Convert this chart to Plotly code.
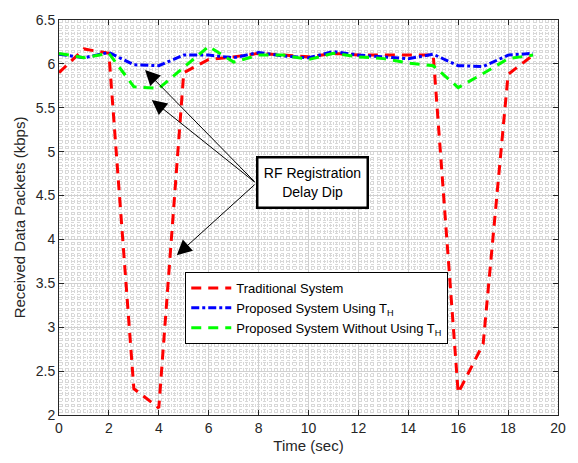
import plotly.graph_objects as go

# ---- data ----
time_sec = list(range(0, 20))
traditional = [5.90, 6.17, 6.12, 2.30, 2.08, 5.90, 6.05, 6.08, 6.12, 6.10,
               6.08, 6.12, 6.10, 6.10, 6.10, 6.10, 2.25, 2.81, 5.88, 6.10]
proposed_th = [6.11, 6.07, 6.13, 5.99, 5.98, 6.10, 6.10, 6.07, 6.13, 6.09,
               6.07, 6.14, 6.10, 6.08, 6.06, 6.11, 5.98, 5.97, 6.10, 6.12]
proposed_no_th = [6.12, 6.07, 6.12, 5.74, 5.72, 5.96, 6.20, 6.02, 6.10, 6.10,
                  6.05, 6.12, 6.08, 6.06, 6.01, 5.98, 5.73, 5.89, 6.06, 6.10]
series_names = ["Traditional System",
                "Proposed System Using T<sub>H</sub>",
                "Proposed System Without Using T<sub>H</sub>"]
x_ticks = list(range(0, 21, 2))
y_ticks = [2, 2.5, 3, 3.5, 4, 4.5, 5, 5.5, 6, 6.5]
y_tick_text = ["2", "2.5", "3", "3.5", "4", "4.5", "5", "5.5", "6", "6.5"]

# annotation arrows: tips and common tail (data coords)
arrow_tips = [(3.45, 5.93), (3.72, 5.59), (4.72, 3.82)]
arrow_tail = (7.9, 4.64)
box_pos = (10.17, 4.65)
box_text = "RF Registration<br>Delay Dip"

FONT = "Liberation Sans, Arial, Helvetica, sans-serif"
AX = "#262626"

fig = go.Figure()
fig.add_trace(go.Scatter(x=time_sec, y=traditional, mode="lines", name=series_names[0],
                         line=dict(color="#FF0000", width=3, dash="10px,7px")))
fig.add_trace(go.Scatter(x=time_sec, y=proposed_th, mode="lines", name=series_names[1],
                         line=dict(color="#0000FF", width=3, dash="8px,3px,3px,3px")))
fig.add_trace(go.Scatter(x=time_sec, y=proposed_no_th, mode="lines", name=series_names[2],
                         line=dict(color="#00FF00", width=3, dash="10px,7px")))

for (tx, ty) in arrow_tips:
    fig.add_annotation(x=tx, y=ty, ax=arrow_tail[0], ay=arrow_tail[1],
                       xref="x", yref="y", axref="x", ayref="y",
                       text="", showarrow=True, arrowhead=2, arrowsize=3,
                       arrowwidth=1, arrowcolor="black", standoff=0, startstandoff=0)

fig.add_annotation(x=box_pos[0], y=box_pos[1], xref="x", yref="y", text=box_text,
                   showarrow=False, font=dict(family=FONT, size=14, color="black"),
                   bgcolor="white", bordercolor="black", borderwidth=2.5,
                   borderpad=3, width=102, height=42, align="center")

axis_common = dict(showline=True, linecolor=AX, linewidth=1, mirror="ticks",
                   ticks="inside", ticklen=5, tickcolor=AX, zeroline=False,
                   showgrid=True, gridcolor="#d0d0d0", gridwidth=1,
                   tickfont=dict(family=FONT, size=14, color=AX))

fig.update_xaxes(range=[0, 20], tickvals=x_ticks,
                 title=dict(text="Time (sec)", font=dict(family=FONT, size=15, color=AX), standoff=5),
                 minor=dict(dtick=0.125, showgrid=True, gridcolor="#d8d8d8", griddash="dot", gridwidth=1),
                 **axis_common)
fig.update_yaxes(range=[2, 6.5], tickvals=y_ticks, ticktext=y_tick_text,
                 title=dict(text="Received Data Packets (kbps)", font=dict(family=FONT, size=15, color=AX), standoff=6),
                 minor=dict(dtick=0.03125, showgrid=True, gridcolor="#d8d8d8", griddash="dot", gridwidth=1),
                 **axis_common)

fig.update_layout(width=578, height=463, margin=dict(l=59, r=20, t=15, b=47),
                  paper_bgcolor="white", plot_bgcolor="white",
                  legend=dict(x=0.253, y=0.362, xanchor="left", yanchor="top",
                              bgcolor="white", bordercolor="black", borderwidth=1,
                              font=dict(family=FONT, size=13, color="black"),
                              itemwidth=40, tracegroupgap=0),
                  showlegend=True)

fig.write_html("out.html")
